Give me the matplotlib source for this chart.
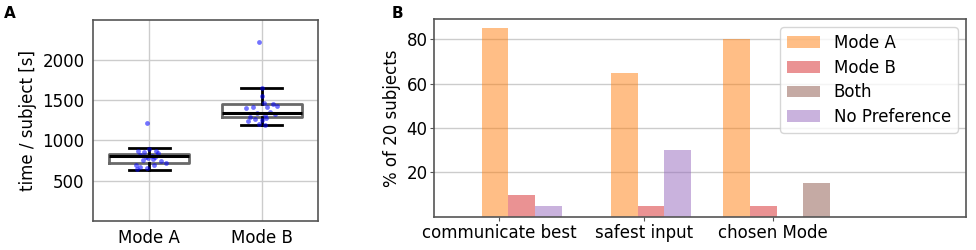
import numpy as np
import matplotlib
matplotlib.use("Agg")
import matplotlib.pyplot as plt

# panel A: time per subject
modes = ["Mode A", "Mode B"]
times_a = [1215, 895, 870, 865, 850, 840, 820, 810, 800, 790,
           780, 770, 760, 740, 720, 700, 690, 670, 655, 640]
times_b = [2215, 1655, 1545, 1470, 1450, 1430, 1420, 1410, 1400, 1350,
           1340, 1330, 1320, 1290, 1280, 1265, 1250, 1240, 1200, 1185]
jitter_a = [-0.02, 0.00, -0.10, 0.06, -0.05, 0.08, -0.08, 0.02, 0.05, -0.03,
            -0.01, 0.03, -0.06, 0.10, 0.15, -0.12, 0.04, -0.08, -0.02, -0.11]
jitter_b = [-0.02, 0.00, 0.00, 0.02, 0.10, 0.14, -0.08, 0.05, -0.14, 0.07,
            -0.04, 0.12, 0.03, -0.10, 0.04, -0.06, 0.00, -0.12, -0.02, 0.03]
# box stats
box_med = [812, 1345]
box_q1 = [719, 1290]
box_q3 = [831, 1455]
box_lo = [636, 1194]
box_hi = [905, 1650]

# panel B: preference questions
questions = ["communicate best", "safest input", "chosen Mode"]
pref_a = [85, 65, 80]
pref_b = [10, 5, 5]
pref_both = [0, 0, 15]
pref_none = [5, 30, 0]

plt.rcParams["font.size"] = 12
fig = plt.figure(figsize=(9.76, 2.5), dpi=100)

spine_col = "#555555"

# ---- A ----
ax = fig.add_axes([0.0953, 0.116, 0.2305, 0.806])
stats = []
for i in range(2):
    stats.append(dict(med=box_med[i], q1=box_q1[i], q3=box_q3[i],
                      whislo=box_lo[i], whishi=box_hi[i], fliers=[]))
pos = np.arange(1, 3)
ax.bxp(stats, positions=pos, widths=0.71, showfliers=False,
       boxprops=dict(color="#444444", lw=2, alpha=0.8),
       medianprops=dict(color="black", lw=2.2, zorder=4),
       whiskerprops=dict(color="black", lw=2),
       capprops=dict(color="black", lw=2), capwidths=0.36)
for p, vals, jit in zip(pos, [times_a, times_b], [jitter_a, jitter_b]):
    ax.scatter(p + np.array(jit), vals, s=12, color="blue", alpha=0.55,
               lw=0, zorder=3)
ax.set_xlim(0.5, 2.5)
ax.set_ylim(0, 2500)
ax.set_yticks([500, 1000, 1500, 2000])
ax.set_xticks(pos)
ax.set_xticklabels(modes)
ax.set_ylabel("time / subject [s]")
ax.grid(True, color="#cccccc", lw=1)
ax.set_axisbelow(True)
ax.tick_params(length=0, pad=6)
for s in ax.spines.values():
    s.set_color(spine_col)
    s.set_linewidth(1.2)

# ---- B ----
bx = fig.add_axes([0.445, 0.1332, 0.5448, 0.7908])
group_x = np.array([0.0, 4.84, 9.06])
series = [("Mode A", pref_a, "tab:orange", 0),
          ("Mode B", pref_b, "tab:red", 1),
          ("No Preference", pref_none, "tab:purple", 2),
          ("Both", pref_both, "tab:brown", 3)]
handles = {}
for name, vals, col, slot in series:
    handles[name] = bx.bar(group_x + slot, vals, width=1.0, align="edge",
                           color=col, alpha=0.5, label=name)
bx.set_xlim(-1.78, 18.16)
bx.set_ylim(0, 89.25)
bx.set_yticks([20, 40, 60, 80])
bx.set_xticks(group_x + np.array([0.66, 1.26, 1.85]))
bx.set_xticklabels(questions)
bx.set_ylabel("% of 20 subjects")
bx.yaxis.grid(True, color="#cccccc", lw=1)
bx.set_axisbelow(True)
bx.tick_params(length=3, color=spine_col, pad=2)
for s in bx.spines.values():
    s.set_color(spine_col)
    s.set_linewidth(1.2)
order = ["Mode A", "Mode B", "Both", "No Preference"]
bx.legend([handles[k] for k in order], order, loc="upper right",
          labelspacing=0.4)

fig.text(0.004, 0.93, "A", fontsize=11, fontweight="bold")
fig.text(0.401, 0.93, "B", fontsize=11, fontweight="bold")

fig.savefig("out.png", dpi=100)
